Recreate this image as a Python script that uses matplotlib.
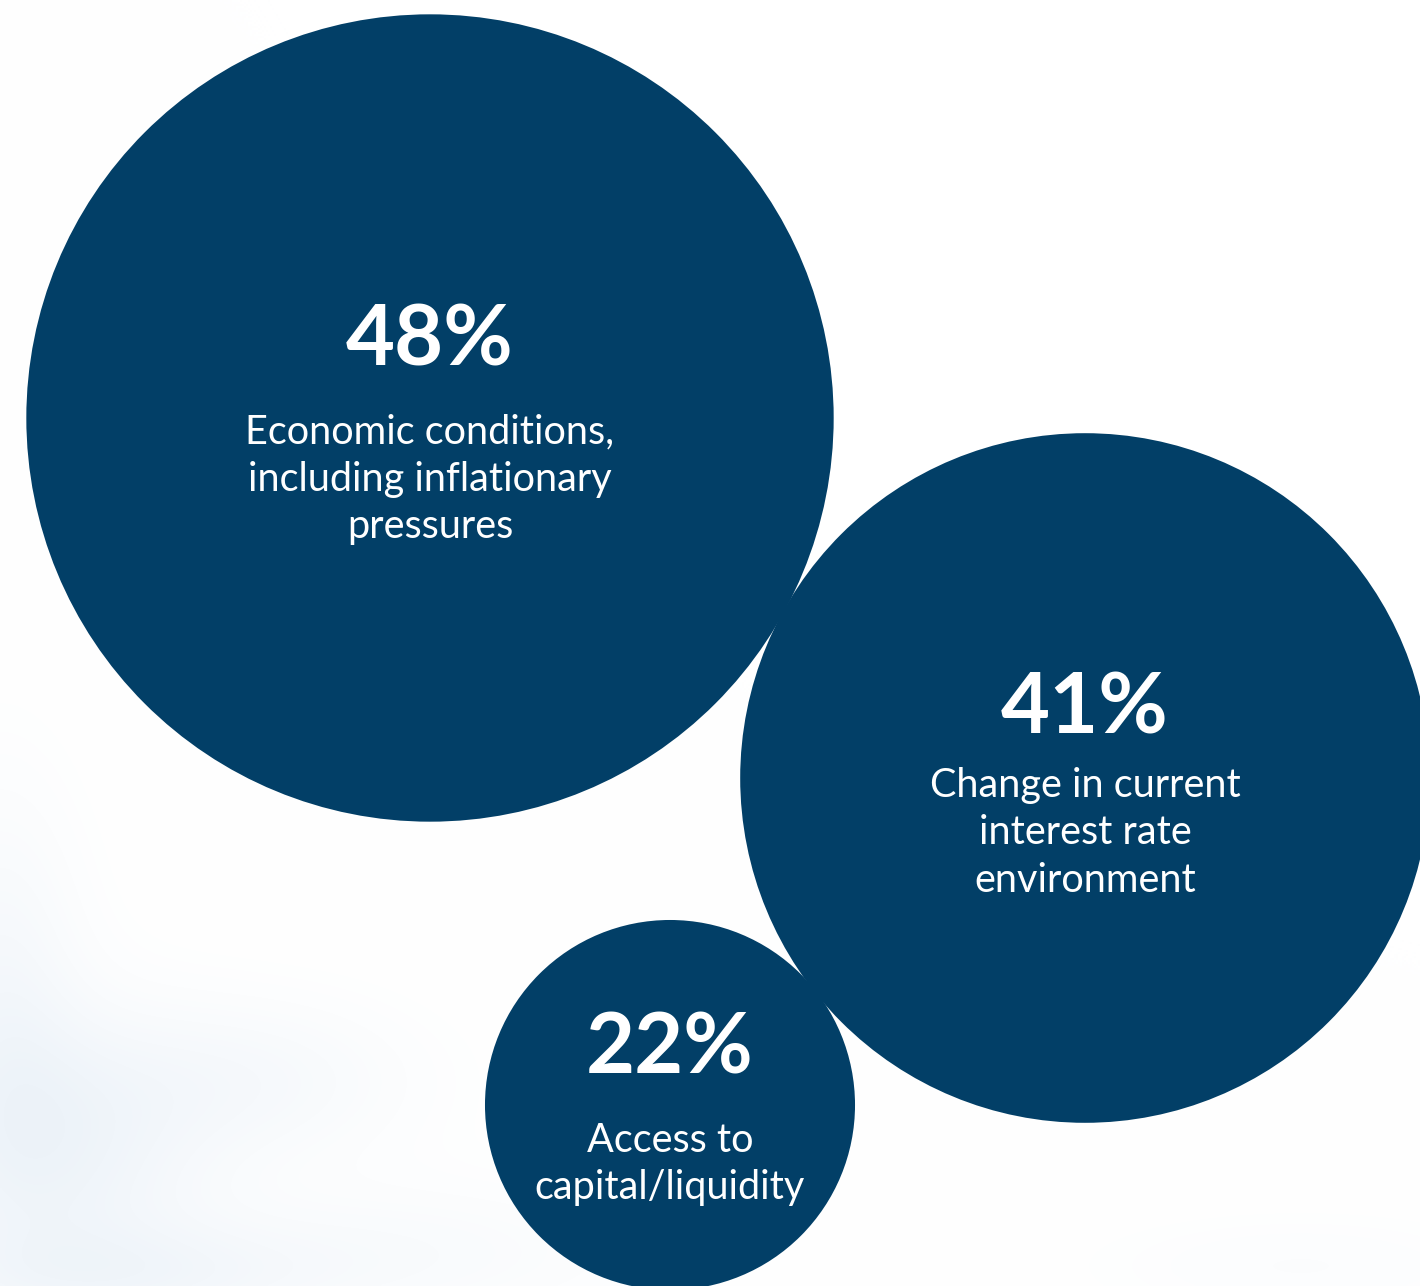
import numpy as np
import matplotlib
matplotlib.use("Agg")
import matplotlib.pyplot as plt
from matplotlib.patches import Circle

# ---- data ----
values = [48, 41, 22]
labels = ["Economic conditions,\nincluding inflationary\npressures",
          "Change in current\ninterest rate\nenvironment",
          "Access to\ncapital/liquidity"]
center_x = [430, 1085, 670]
center_y = [418, 778, 1105]

W, H = 1420, 1286
fig = plt.figure(figsize=(W / 100, H / 100), dpi=100)
ax = fig.add_axes([0, 0, 1, 1])
ax.set_xlim(0, W)
ax.set_ylim(H, 0)
ax.set_aspect("equal")
ax.axis("off")

# subtle cloudy background (decorative)
yy, xx = np.mgrid[0:H:2, 0:W:2]
bg = np.zeros_like(xx, dtype=float)
for (bx, by, sx, sy, a) in [(60, 1150, 140, 130, 0.45), (250, 1080, 160, 80, 0.25),
                            (0, 1000, 80, 200, 0.3), (400, 1250, 250, 70, 0.18),
                            (120, 1275, 200, 50, 0.3), (1300, 1265, 200, 50, 0.1)]:
    bg += a * np.exp(-(((xx - bx) / sx) ** 2 + ((yy - by) / sy) ** 2))
bg = np.clip(bg, 0, 1)
base = np.array([1.0, 1.0, 1.0])
tint = np.array([0.88, 0.92, 0.96])
img = base[None, None, :] * (1 - bg[..., None]) + tint[None, None, :] * bg[..., None]
ax.imshow(img, extent=[0, W, H, 0], zorder=0, interpolation="bilinear")

scale = 8.41  # px radius per percentage point
navy = "#023F67"
for v, lab, cx, cy in zip(values, labels, center_x, center_y):
    r = v * scale
    ax.add_patch(Circle((cx, cy), r, facecolor=navy, edgecolor="none", zorder=2))

pct_offset = [-77, -69, -56]
lab_offset = [61, 55, 59]
for v, lab, cx, cy, po, lo in zip(values, labels, center_x, center_y, pct_offset, lab_offset):
    ax.text(cx, cy + po, f"{v}%", color="white", fontsize=61, fontweight="bold",
            family=["Lato", "DejaVu Sans"], ha="center", va="center", zorder=3)
    ax.text(cx, cy + lo, lab, color="white", fontsize=28.5,
            family=["Lato", "DejaVu Sans"], ha="center", va="center",
            linespacing=1.34, zorder=3)

fig.savefig("out.png", dpi=100)
